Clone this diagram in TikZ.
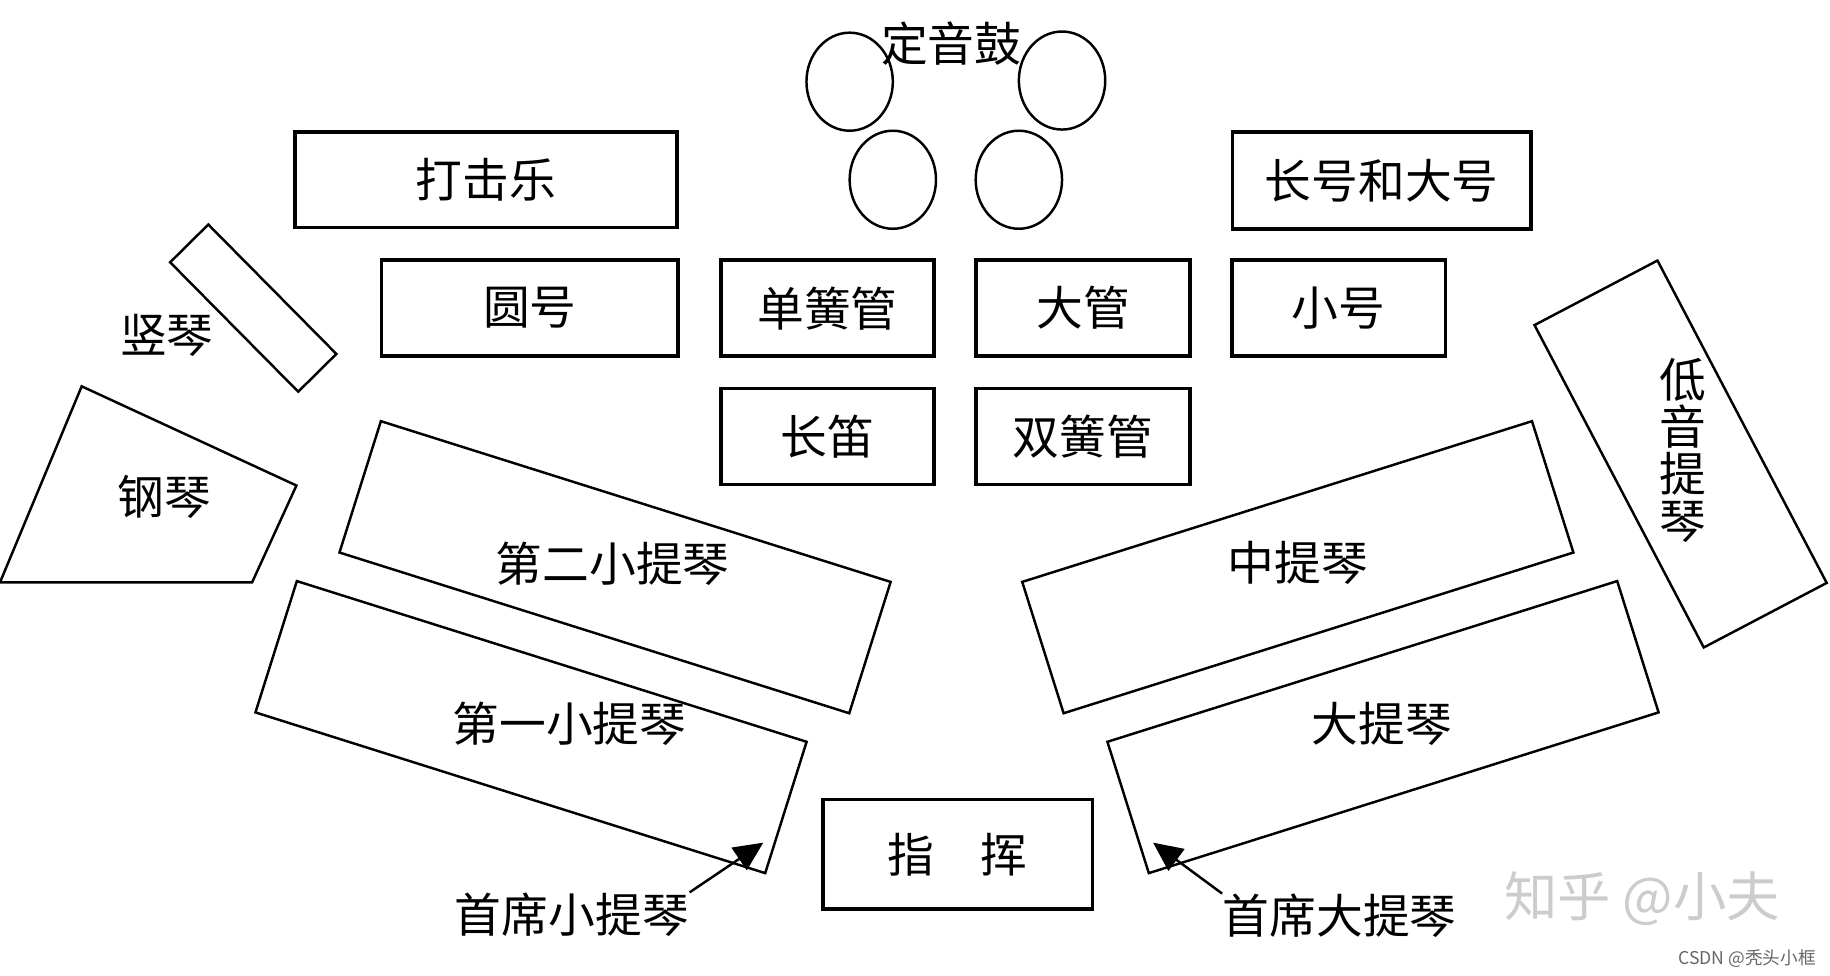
\documentclass[tikz,border=0pt]{standalone}
\usepackage{fontspec}
\newfontfamily\cjk{Noto Sans CJK SC}
\usepackage{tikz}
\usetikzlibrary{arrows.meta,shapes.geometric}

\begin{document}
\begin{tikzpicture}[x=0.1mm,y=-0.1mm]
\tikzstyle{seat}=[draw,line width=0.9pt,inner sep=0pt,minimum height=8.2mm,font=\cjk\fontsize{11.4}{11.4}\selectfont]
\tikzstyle{tilt}=[draw,line width=0.6pt,inner sep=0pt]
\tikzstyle{lbl}=[inner sep=0pt,font=\cjk\fontsize{11.4}{11.4}\selectfont]
\tikzstyle{drum}=[draw,ellipse,line width=0.6pt,minimum width=7.4mm,minimum height=8.4mm,inner sep=0pt]
\tikzstyle{pointer}=[line width=0.6pt,-{Triangle[length=2.5mm,width=2.3mm]}]

\useasboundingbox (0,0) rectangle (1568,836);

% timpani
\foreach \n/\x/\y in {1/728/70,2/910/69,3/765/154,4/873/154}
{
    \node[drum] (timp\n) at (\x,\y) {};
}
\node[lbl] (timp) at (815,37) {定音鼓};

% winds, brass, percussion
\node[seat,minimum width=32.7mm] (perc) at (416.5,154) {打击乐};
\node[seat,minimum width=25.6mm,minimum height=8.3mm] (tbn) at (1184,154.5) {长号和大号};
\node[seat,minimum width=25.4mm] (hn) at (454,264) {圆号};
\foreach \name/\x/\y/\txt in {cl/709/264/单簧管,bsn/928/264/大管,tpt/1147/264/小号,fl/709/374/长笛,ob/928/374/双簧管}
{
    \node[seat,minimum width=18.3mm] (\name) at (\x,\y) {\txt};
}
\node[seat,minimum width=23.1mm,minimum height=9.4mm] (cond) at (820.5,732) {指\hspace{1em}挥};

% harp and piano
\node[tilt,rotate=-45.3,minimum width=15.6mm,minimum height=4.6mm] (hp) at (217,264) {};
\node[lbl] (hplbl) at (143,287) {竖琴};
\draw[line width=0.6pt] (70,331) -- (254,416) -- (216,499) -- (0,499) -- cycle;
\node[lbl] (pno) at (141,426) {钢琴};

% strings
\foreach \name/\x/\y/\ang/\lx/\ly/\txt in {vn2/527/486/-17.5/525/483/第二小提琴,vn1/455/623/-17.5/488/620/第一小提琴,va/1112/486/17.5/1112/482/中提琴,vc/1185/623/17.5/1184/620/大提琴}
{
    \node[tilt,rotate=\ang,minimum width=45.8mm,minimum height=11.8mm] (\name) at (\x,\y) {};
    \node[lbl] (\name lbl) at (\lx,\ly) {\txt};
}
\node[tilt,rotate=-62.3,minimum width=31.2mm,minimum height=11.9mm] (cb) at (1440,389) {};
\node[lbl,align=center] (cblbl) at (1442,386) {低\\音\\提\\琴};

% principals
\node[lbl] (vnlead) at (490,784) {首席小提琴};
\node[lbl] (vclead) at (1148,785) {首席大提琴};
\coordinate (vntip) at (654,722);
\coordinate (vctip) at (988,722);
\draw[pointer] (vnlead.north east) -- (vntip);
\draw[pointer] (vclead.north west) -- (vctip);

% watermarks
\node[inner sep=0pt,text=gray!40,font=\cjk\fontsize{13}{13}\selectfont] (zh) at (1407,770) {知乎 @小夫};
\node[inner sep=0pt,text=gray!80!black,font=\cjk\fontsize{4.3}{4.3}\selectfont] (csdn) at (1497,821) {CSDN @秃头小框};
\end{tikzpicture}
\end{document}
